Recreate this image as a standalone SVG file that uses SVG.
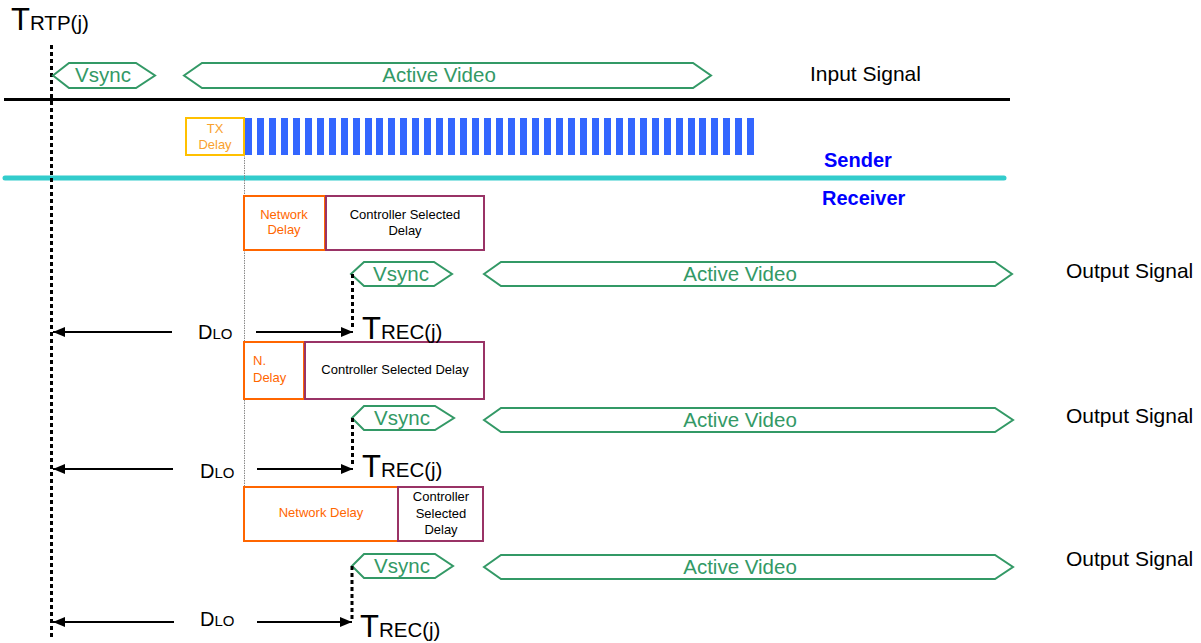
<svg xmlns="http://www.w3.org/2000/svg" width="1201" height="643" viewBox="0 0 1201 643">
<style>
text{font-family:"Liberation Sans",Arial,sans-serif;}
.hex{fill:none;stroke:#339966;stroke-width:2;}
.ht{fill:#339966;font-size:20.5px;text-anchor:middle;}
.sig{fill:#000;font-size:21px;}
.box{fill:#fff;stroke-width:2;}
.or{stroke:#FF6600;}
.pu{stroke:#993366;}
.ot{fill:#FF6600;font-size:13px;text-anchor:middle;}
.ct{fill:#000;font-size:13px;text-anchor:middle;}
.bar{fill:#3366FF;}
.dash{stroke:#000;stroke-width:3;stroke-dasharray:4 3;fill:none;}
.arr{stroke:#000;stroke-width:2;fill:none;marker-end:url(#ah);}
.big{font-size:31px;fill:#000;}
.sub{font-size:20.5px;}
.d{font-size:20px;fill:#000;}
.lo{font-size:15px;}
.lbl{fill:#0000FF;font-size:20px;font-weight:bold;}
</style>
<defs>
<marker id="ah" markerUnits="userSpaceOnUse" markerWidth="12" markerHeight="10" refX="12" refY="5" orient="auto">
<path d="M0,0 L12,5 L0,10 z" fill="#000"/>
</marker>
</defs>
<rect width="1201" height="643" fill="#fff"/>

<g id="lines">
<line x1="4" y1="99.5" x2="1010" y2="99.5" stroke="#000" stroke-width="3"/>
<line x1="5" y1="178" x2="1004" y2="178" stroke="#33CCCC" stroke-width="5" stroke-linecap="round"/>
<line x1="244.5" y1="155" x2="244.5" y2="541" stroke="#888" stroke-width="1" stroke-dasharray="1.5 1"/>
<line x1="51.5" y1="45" x2="51.5" y2="640" class="dash"/>
<text x="824" y="167" class="lbl">Sender</text>
<text x="822" y="205" class="lbl">Receiver</text>
</g>

<g id="trtp">
<text x="11" y="30" class="big">T<tspan class="sub" font-size="19px">RTP(j)</tspan></text>
</g>

<g id="input-signal">
<polygon class="hex" points="53,75.5 69,63 136,63 155,75.5 136,88 69,88"/>
<text x="103" y="82" class="ht">Vsync</text>
<polygon class="hex" points="184,75.5 202,63 693,63 711,75.5 693,88 202,88"/>
<text x="439" y="82" class="ht">Active Video</text>
<text x="810" y="81" class="sig">Input Signal</text>
</g>

<g id="tx-delay">
<rect x="186" y="118" width="58" height="37" fill="#fff" stroke="#FFC000" stroke-width="2"/>
<text x="215" y="133" font-size="13px" fill="#F9A12E" text-anchor="middle">TX</text>
<text x="215" y="148.5" font-size="13px" fill="#F9A12E" text-anchor="middle">Delay</text>
</g>

<g id="packets">
<rect class="bar" x="245" y="118" width="7" height="37"/><rect class="bar" x="257" y="118" width="7" height="37"/><rect class="bar" x="269" y="118" width="7" height="37"/><rect class="bar" x="281" y="118" width="7" height="37"/><rect class="bar" x="293" y="118" width="7" height="37"/><rect class="bar" x="305" y="118" width="7" height="37"/><rect class="bar" x="317" y="118" width="7" height="37"/><rect class="bar" x="329" y="118" width="7" height="37"/><rect class="bar" x="341" y="118" width="7" height="37"/><rect class="bar" x="353" y="118" width="7" height="37"/><rect class="bar" x="365" y="118" width="7" height="37"/><rect class="bar" x="376" y="118" width="7" height="37"/><rect class="bar" x="388" y="118" width="7" height="37"/><rect class="bar" x="400" y="118" width="7" height="37"/><rect class="bar" x="412" y="118" width="7" height="37"/><rect class="bar" x="424" y="118" width="7" height="37"/><rect class="bar" x="436" y="118" width="7" height="37"/><rect class="bar" x="448" y="118" width="7" height="37"/><rect class="bar" x="460" y="118" width="7" height="37"/><rect class="bar" x="472" y="118" width="7" height="37"/><rect class="bar" x="484" y="118" width="7" height="37"/><rect class="bar" x="496" y="118" width="7" height="37"/><rect class="bar" x="508" y="118" width="7" height="37"/><rect class="bar" x="520" y="118" width="7" height="37"/><rect class="bar" x="532" y="118" width="7" height="37"/><rect class="bar" x="544" y="118" width="7" height="37"/><rect class="bar" x="556" y="118" width="7" height="37"/><rect class="bar" x="568" y="118" width="7" height="37"/><rect class="bar" x="580" y="118" width="7" height="37"/><rect class="bar" x="592" y="118" width="7" height="37"/><rect class="bar" x="604" y="118" width="7" height="37"/><rect class="bar" x="616" y="118" width="7" height="37"/><rect class="bar" x="628" y="118" width="7" height="37"/><rect class="bar" x="640" y="118" width="7" height="37"/><rect class="bar" x="652" y="118" width="7" height="37"/><rect class="bar" x="664" y="118" width="7" height="37"/><rect class="bar" x="676" y="118" width="7" height="37"/><rect class="bar" x="688" y="118" width="7" height="37"/><rect class="bar" x="699" y="118" width="7" height="37"/><rect class="bar" x="711" y="118" width="7" height="37"/><rect class="bar" x="723" y="118" width="7" height="37"/><rect class="bar" x="735" y="118" width="7" height="37"/><rect class="bar" x="747" y="118" width="7" height="37"/>
</g>

<g id="row1-delays">
<rect class="box or" x="244" y="196" width="81" height="54"/>
<text x="284" y="219" class="ot">Network</text>
<text x="284" y="234" class="ot">Delay</text>
<rect class="box pu" x="326" y="196" width="158" height="54"/>
<text x="405" y="218.5" class="ct">Controller Selected</text>
<text x="405" y="234.5" class="ct">Delay</text>
</g>

<g id="row1-output">
<polygon class="hex" points="351,274 364,262 434,262 452,274 434,286 364,286"/>
<text x="401" y="281" class="ht">Vsync</text>
<polygon class="hex" points="484,274 501,262 995,262 1012,274 995,286 501,286"/>
<text x="740" y="281" class="ht">Active Video</text>
<text x="1066" y="278" class="sig">Output Signal</text>
</g>

<g id="row2-delays">
<rect class="box or" x="244" y="342" width="60" height="57"/>
<text x="253" y="365" font-size="13px" fill="#FF6600">N.</text>
<text x="253" y="382" font-size="13px" fill="#FF6600">Delay</text>
<rect class="box pu" x="305" y="342" width="179" height="57"/>
<text x="395" y="374" class="ct">Controller Selected Delay</text>
</g>

<g id="row2-output">
<polygon class="hex" points="352,418 364,406 435,406 454,418 435,430 364,430"/>
<text x="402" y="425" class="ht">Vsync</text>
<polygon class="hex" points="484,420 501,408 995,408 1013,420 995,432 501,432"/>
<text x="740" y="427" class="ht">Active Video</text>
<text x="1066" y="423" class="sig">Output Signal</text>
</g>

<g id="row3-delays">
<rect class="box or" x="244" y="487" width="154" height="54"/>
<text x="321" y="517" class="ot">Network Delay</text>
<rect class="box pu" x="398" y="487" width="85" height="54"/>
<text x="441" y="501" class="ct">Controller</text>
<text x="441" y="517.5" class="ct">Selected</text>
<text x="441" y="534" class="ct">Delay</text>
</g>

<g id="row3-output">
<polygon class="hex" points="352,566 364,554 435,554 453,566 435,578 364,578"/>
<text x="402" y="573" class="ht">Vsync</text>
<polygon class="hex" points="484,567 501,555 995,555 1013,567 995,579 501,579"/>
<text x="740" y="574" class="ht">Active Video</text>
<text x="1066" y="566" class="sig">Output Signal</text>
</g>

<g id="connectors">
<line x1="172" y1="332" x2="53" y2="332" class="arr"/>
<line x1="256" y1="332" x2="353" y2="332" class="arr"/>
<line x1="352.5" y1="274" x2="352.5" y2="330" class="dash"/>
<line x1="173" y1="469" x2="53" y2="469" class="arr"/>
<line x1="257" y1="469" x2="353" y2="469" class="arr"/>
<line x1="352.5" y1="418" x2="352.5" y2="467" class="dash"/>
<line x1="174" y1="622" x2="53" y2="622" class="arr"/>
<line x1="257" y1="622" x2="352" y2="622" class="arr"/>
<line x1="352" y1="566" x2="352" y2="620" class="dash"/>
</g>

<g id="labels">
<text x="198" y="339" class="d">D<tspan class="lo">LO</tspan></text>
<text x="362" y="339" class="big">T<tspan class="sub">REC(j)</tspan></text>
<text x="200" y="477.5" class="d">D<tspan class="lo">LO</tspan></text>
<text x="362" y="477" class="big">T<tspan class="sub">REC(j)</tspan></text>
<text x="200" y="625.5" class="d">D<tspan class="lo">LO</tspan></text>
<text x="360" y="636.5" class="big">T<tspan class="sub">REC(j)</tspan></text>
</g>
</svg>
